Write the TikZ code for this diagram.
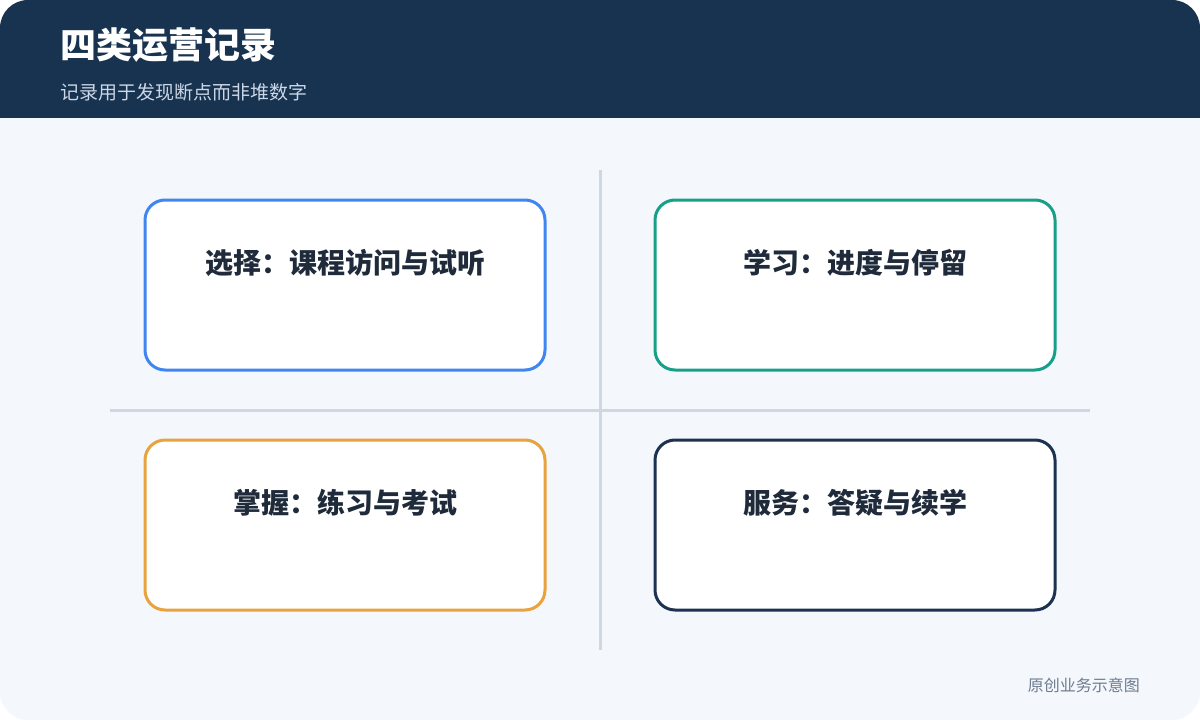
\documentclass[tikz,border=0pt]{standalone}
\usepackage{fontspec}
\setmainfont{Noto Sans CJK SC}
\usetikzlibrary{positioning}

\definecolor{headbg}{HTML}{183350}
\definecolor{bodybg}{HTML}{F4F7FC}
\definecolor{rulegray}{HTML}{CFD7E2}
\definecolor{cardblue}{HTML}{3F86F0}
\definecolor{cardteal}{HTML}{17A088}
\definecolor{cardorange}{HTML}{E8A23E}
\definecolor{cardnavy}{HTML}{1C3250}
\definecolor{inktext}{HTML}{1F2A3A}
\definecolor{subtext}{HTML}{CBD7E6}
\definecolor{foottext}{HTML}{6E7C90}

\tikzset{
  card/.style={draw,fill=white,line width=3pt,rounded corners=20pt,
    minimum width=400pt,minimum height=170pt,inner sep=0pt},
  cardtext/.style={text=inktext,font=\bfseries\fontsize{28}{34}\selectfont,inner sep=0pt},
}

\begin{document}
\begin{tikzpicture}[x=1pt,y=-1pt]
    \useasboundingbox (0,0) rectangle (1200,720);
    \fill[white] (0,0) rectangle (1200,720);
    \begin{scope}
      \clip[rounded corners=28pt] (0,0) rectangle (1200,720);
      \fill[bodybg] (0,0) rectangle (1200,720);
      \fill[headbg] (0,0) rectangle (1200,118);
    \end{scope}

    % header
    \node[anchor=west,text=white,inner sep=0pt,font=\bfseries\fontsize{36}{42}\selectfont] (title) at (60,45) {四类运营记录};
    \node[anchor=west,text=subtext,inner sep=0pt,font=\fontsize{19}{22}\selectfont] (subtitle) at (60,92) {记录用于发现断点而非堆数字};

    % dividers
    \draw[rulegray,line width=3pt] (600,170) -- (600,650);
    \draw[rulegray,line width=3pt] (110,410) -- (1090,410);

    % cards
    \node[card,draw=cardblue] (select) at (345,285) {};
    \node[card,draw=cardteal] (study) at (855,285) {};
    \node[card,draw=cardorange] (master) at (345,525) {};
    \node[card,draw=cardnavy] (serve) at (855,525) {};

    \node[cardtext] (selectlbl) at ([yshift=22pt]select.center) {选择：课程访问与试听};
    \node[cardtext] (studylbl) at ([yshift=22pt]study.center) {学习：进度与停留};
    \node[cardtext] (masterlbl) at ([yshift=22pt]master.center) {掌握：练习与考试};
    \node[cardtext] (servelbl) at ([yshift=22pt]serve.center) {服务：答疑与续学};

    % footer
    \node[anchor=east,text=foottext,inner sep=0pt,font=\fontsize{16}{19}\selectfont] (note) at (1140,685) {原创业务示意图};
  \end{tikzpicture}
\end{document}
